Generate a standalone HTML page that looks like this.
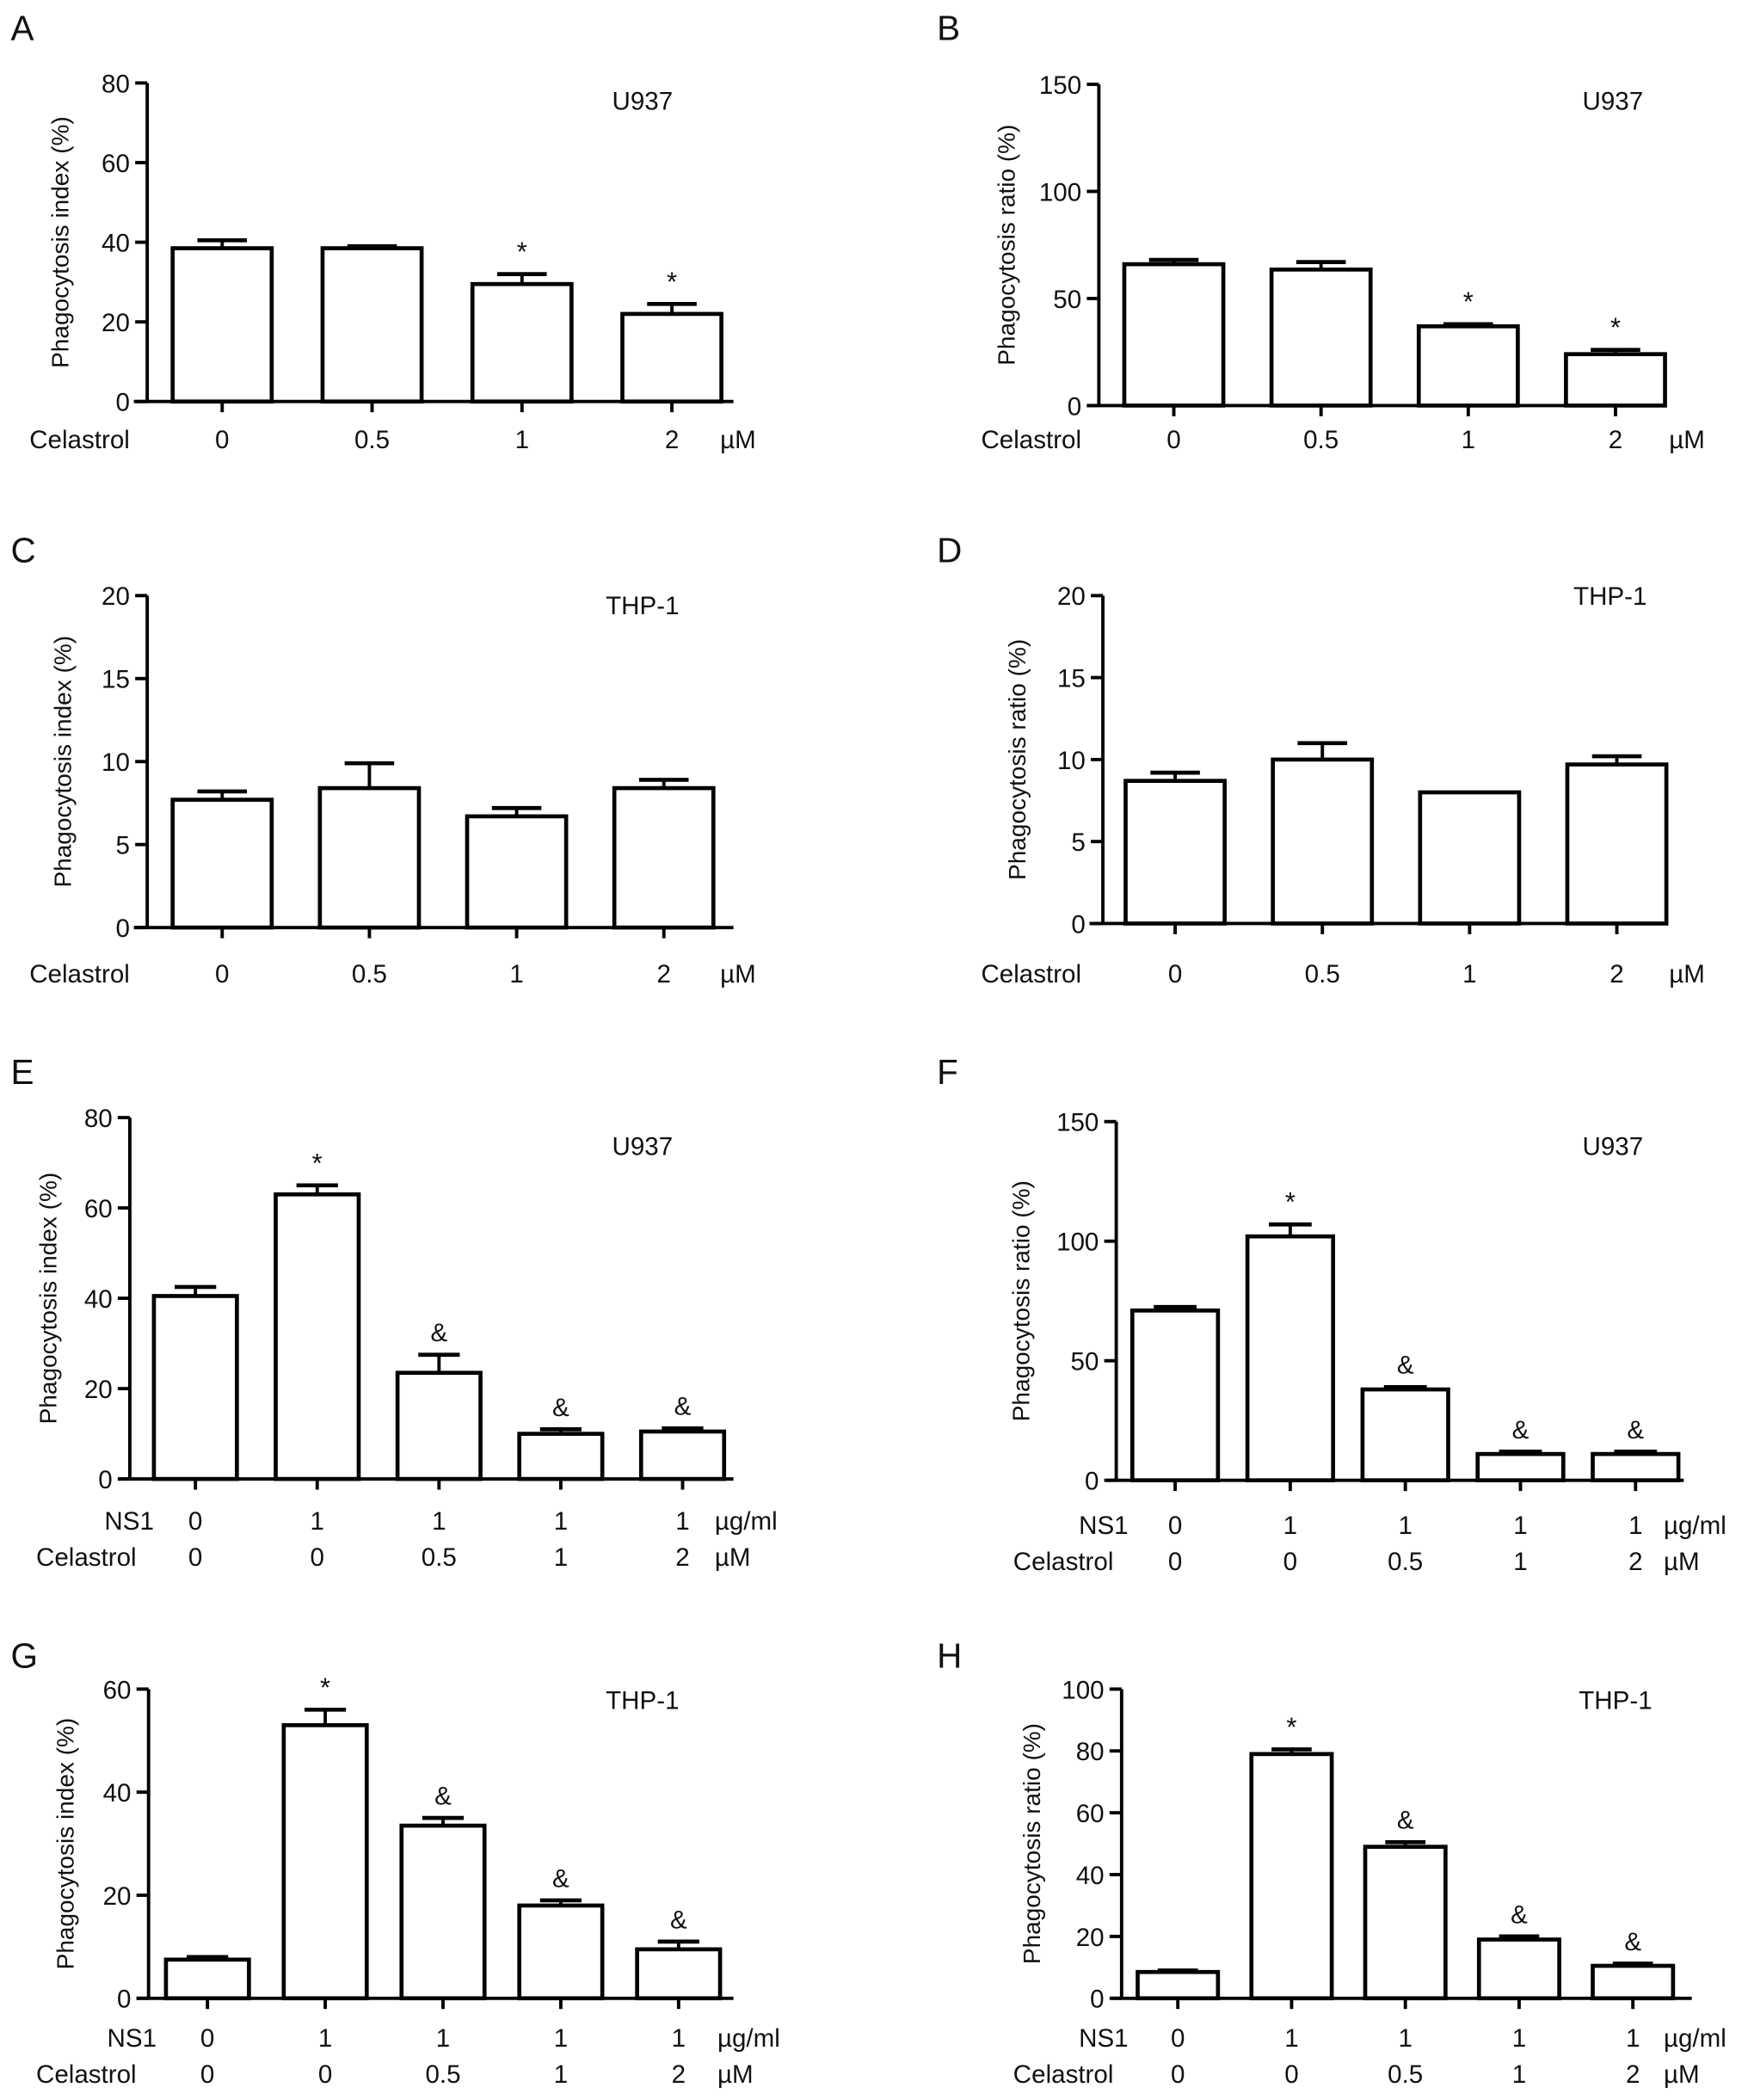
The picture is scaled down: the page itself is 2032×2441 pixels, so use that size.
<!DOCTYPE html>
<html><head><meta charset="utf-8"><style>
html,body{margin:0;padding:0;background:#fff}
svg{display:block}
text{font-family:"Liberation Sans",Arial,sans-serif;fill:#111}
</style></head>
<body>
<svg id="fig" width="2032" height="2441" viewBox="0 0 1306 1569" preserveAspectRatio="none" xmlns="http://www.w3.org/2000/svg"></svg>
<script>
// Panel data arrays
const aCats = ["0","0.5","1","2"];
const aVals = [38.5, 38.5, 29.5, 22];
const aErr = [2, 0.5, 2.5, 2.5];
const aMarks = ["", "", "*", "*"];
const aTicks = [0,20,40,60,80];

const bCats = ["0","0.5","1","2"];
const bVals = [66, 63.5, 37, 24];
const bErr = [2, 3.5, 1, 2];
const bMarks = ["", "", "*", "*"];
const bTicks = [0,50,100,150];

const cCats = ["0","0.5","1","2"];
const cVals = [7.7, 8.4, 6.7, 8.4];
const cErr = [0.5, 1.5, 0.5, 0.5];
const cMarks = ["", "", "", ""];
const cTicks = [0,5,10,15,20];

const dCats = ["0","0.5","1","2"];
const dVals = [8.7, 10, 8.0, 9.7];
const dErr = [0.5, 1, 0, 0.5];
const dMarks = ["", "", "", ""];
const dTicks = [0,5,10,15,20];

const ns1Cats = ["0","1","1","1","1"];
const celCats = ["0","0","0.5","1","2"];

const eVals = [40.5, 63, 23.5, 10, 10.5];
const eErr = [2, 2, 4, 1, 0.7];
const eMarks = ["", "*", "&", "&", "&"];
const eTicks = [0,20,40,60,80];

const fVals = [71, 102, 38, 11, 11];
const fErr = [1.5, 5, 1, 1, 1];
const fMarks = ["", "*", "&", "&", "&"];
const fTicks = [0,50,100,150];

const gVals = [7.5, 53, 33.5, 18, 9.5];
const gErr = [0.5, 3, 1.5, 1, 1.5];
const gMarks = ["", "*", "&", "&", "&"];
const gTicks = [0,20,40,60];

const hVals = [8.5, 79, 49, 19, 10.5];
const hErr = [0.5, 1.5, 1.5, 1, 0.7];
const hMarks = ["", "*", "&", "&", "&"];
const hTicks = [0,20,40,60,80,100];

const NS = "http://www.w3.org/2000/svg";
const svg = document.getElementById("fig");
function mk(tag, attrs, parent){
  const e = document.createElementNS(NS, tag);
  for (const k in attrs) e.setAttribute(k, attrs[k]);
  (parent||svg).appendChild(e);
  return e;
}
function txt(parent, x, y, s, size, anchor, name){
  const t = mk("text", {x:x, y:y, "font-size":size, "text-anchor":anchor||"middle"}, parent);
  t.textContent = s;
  
  
  return t;
}

function panel(cfg){
  const g = mk("g", {});
  
  
  txt(g, cfg.lx, cfg.ly, cfg.letter, 26, "start", 'panel-letter');
  const ymax = cfg.ticks[cfg.ticks.length-1];
  const yS = v => cfg.y0 - (v/ymax)*(cfg.y0 - cfg.yTop);
  const xS = i => cfg.x0 + i*cfg.step;
  const ya = mk("line", {x1:cfg.ax, y1:cfg.yTop, x2:cfg.ax, y2:cfg.y0, stroke:"#000", "stroke-width":2.5}, g);
  
  
  cfg.ticks.forEach(t => {
    const y = yS(t);
    const tl = mk("line", {x1:cfg.ax-9, y1:y, x2:cfg.ax, y2:y, stroke:"#000", "stroke-width":2.5}, g);
    
    
    txt(g, cfg.ax-13, y+7, String(t), 19, "end", 'y-tick-label');
  });
  const xa = mk("line", {x1:cfg.xa1, y1:cfg.y0, x2:cfg.xa2, y2:cfg.y0, stroke:"#000", "stroke-width":2.5}, g);
  
  
  const yt = txt(g, 0, 0, cfg.ytitle, 18, "middle", 'y-axis-title');
  yt.setAttribute("transform", "translate(" + cfg.ytx + "," + ((cfg.yTop+cfg.y0)/2) + ") rotate(-90)");
  txt(g, cfg.cellX, cfg.cellY, cfg.cell, 19, "middle", 'cell-line-label');
  cfg.vals.forEach((v, i) => {
    const cx = xS(i), w = cfg.bw;
    const yv = yS(v), ye = yS(v + cfg.err[i]);
    if (cfg.err[i] > 0) {
      const el = mk("line", {x1:cx, y1:ye, x2:cx, y2:yv, stroke:"#000", "stroke-width":2.5}, g);
      
      
      const ec = mk("line", {x1:cx-w*0.25, y1:ye, x2:cx+w*0.25, y2:ye, stroke:"#000", "stroke-width":3}, g);
      
      
    }
    const r = mk("rect", {x:cx-w/2, y:yv, width:w, height:cfg.y0-yv, fill:"#fff", stroke:"#000", "stroke-width":3}, g);
    
    
    const xt = mk("line", {x1:cx, y1:cfg.y0, x2:cx, y2:cfg.y0+8, stroke:"#000", "stroke-width":2.5}, g);
    
    
    if (cfg.marks[i]) txt(g, cx, ye - 10, cfg.marks[i], cfg.marks[i]==="*"?20:19, "middle", 'significance-mark');
  });
  cfg.rows.forEach(row => {
    txt(g, row.lx, row.y, row.label, 19, row.anchor, 'row-label');
    row.cats.forEach((c, i) => txt(g, xS(i), row.y, c, 19, "middle", 'x-tick-label'));
    txt(g, row.ux, row.y, row.unit, 19, "start", 'unit-label');
  });
}

const IDX = "Phagocytosis index (%)", RAT = "Phagocytosis ratio (%)";
panel({letter:"A", lx:8, ly:30, ax:110, yTop:62, y0:300, xa1:100, xa2:548, x0:166, step:112, bw:74,
  ticks:aTicks, vals:aVals, err:aErr, marks:aMarks, ytitle:IDX, ytx:51, cell:"U937", cellX:480, cellY:82,
  rows:[{label:"Celastrol", lx:22, y:335, anchor:"start", cats:aCats, unit:"µM", ux:538}]});
panel({letter:"B", lx:700, ly:30, ax:821, yTop:63, y0:303, xa1:812, xa2:1242, x0:877, step:110, bw:74,
  ticks:bTicks, vals:bVals, err:bErr, marks:bMarks, ytitle:RAT, ytx:758, cell:"U937", cellX:1205, cellY:82,
  rows:[{label:"Celastrol", lx:733, y:335, anchor:"start", cats:bCats, unit:"µM", ux:1247}]});
panel({letter:"C", lx:8, ly:420, ax:110, yTop:445, y0:693, xa1:100, xa2:548, x0:166, step:110, bw:74,
  ticks:cTicks, vals:cVals, err:cErr, marks:cMarks, ytitle:IDX, ytx:53, cell:"THP-1", cellX:480, cellY:459,
  rows:[{label:"Celastrol", lx:22, y:734, anchor:"start", cats:cCats, unit:"µM", ux:538}]});
panel({letter:"D", lx:700, ly:420, ax:824, yTop:445, y0:690, xa1:814, xa2:1242, x0:878, step:110, bw:74,
  ticks:dTicks, vals:dVals, err:dErr, marks:dMarks, ytitle:RAT, ytx:766, cell:"THP-1", cellX:1203, cellY:452,
  rows:[{label:"Celastrol", lx:733, y:734, anchor:"start", cats:dCats, unit:"µM", ux:1247}]});
panel({letter:"E", lx:8, ly:810, ax:97, yTop:835, y0:1105, xa1:88, xa2:548, x0:146, step:91, bw:62,
  ticks:eTicks, vals:eVals, err:eErr, marks:eMarks, ytitle:IDX, ytx:42, cell:"U937", cellX:480, cellY:863,
  rows:[{label:"NS1", lx:115, y:1143, anchor:"end", cats:ns1Cats, unit:"µg/ml", ux:534},
        {label:"Celastrol", lx:27, y:1170, anchor:"start", cats:celCats, unit:"µM", ux:534}]});
panel({letter:"F", lx:700, ly:810, ax:834, yTop:838, y0:1106, xa1:827, xa2:1258, x0:878, step:86, bw:64,
  ticks:fTicks, vals:fVals, err:fErr, marks:fMarks, ytitle:RAT, ytx:769, cell:"U937", cellX:1205, cellY:863,
  rows:[{label:"NS1", lx:843, y:1146, anchor:"end", cats:ns1Cats, unit:"µg/ml", ux:1243},
        {label:"Celastrol", lx:757, y:1173, anchor:"start", cats:celCats, unit:"µM", ux:1243}]});
panel({letter:"G", lx:8, ly:1246, ax:111, yTop:1262, y0:1493, xa1:102, xa2:548, x0:155, step:88, bw:62,
  ticks:gTicks, vals:gVals, err:gErr, marks:gMarks, ytitle:IDX, ytx:55, cell:"THP-1", cellX:480, cellY:1277,
  rows:[{label:"NS1", lx:117, y:1529, anchor:"end", cats:ns1Cats, unit:"µg/ml", ux:536},
        {label:"Celastrol", lx:27, y:1556, anchor:"start", cats:celCats, unit:"µM", ux:536}]});
panel({letter:"H", lx:700, ly:1246, ax:838, yTop:1262, y0:1493, xa1:830, xa2:1264, x0:880, step:85, bw:60,
  ticks:hTicks, vals:hVals, err:hErr, marks:hMarks, ytitle:RAT, ytx:777, cell:"THP-1", cellX:1207, cellY:1277,
  rows:[{label:"NS1", lx:843, y:1529, anchor:"end", cats:ns1Cats, unit:"µg/ml", ux:1243},
        {label:"Celastrol", lx:757, y:1556, anchor:"start", cats:celCats, unit:"µM", ux:1243}]});
</script>
</body></html>
